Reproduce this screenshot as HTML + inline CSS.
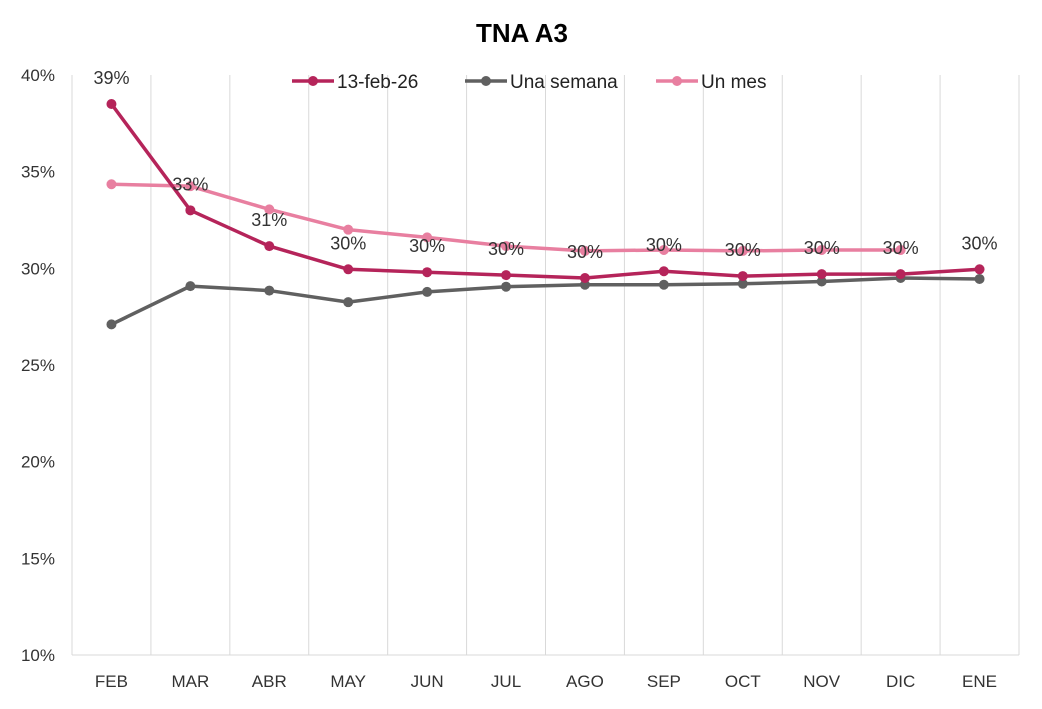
<!DOCTYPE html>
<html><head><meta charset="utf-8"><style>
body{margin:0;background:#fff;font-family:"Liberation Sans",sans-serif}
</style></head><body>
<svg id="chart" width="1042" height="704" xmlns="http://www.w3.org/2000/svg">
<text x="522" y="42" text-anchor="middle" font-size="26" font-weight="bold" fill="#000">TNA A3</text>
<g id="grid"></g><g id="axes"></g><g id="series"></g><g id="legend"></g>
</svg>
<script>
const categories=["FEB","MAR","ABR","MAY","JUN","JUL","AGO","SEP","OCT","NOV","DIC","ENE"];
const serieFeb=[38.5,33.0,31.15,29.95,29.8,29.65,29.5,29.85,29.6,29.7,29.7,29.95];
const serieSemana=[27.1,29.08,28.85,28.25,28.78,29.05,29.15,29.15,29.2,29.32,29.5,29.45];
const serieMes=[34.35,34.25,33.05,32.0,31.6,31.15,30.9,30.95,30.9,30.95,30.95,null];
const yTicks=[10,15,20,25,30,35,40];
const NS="http://www.w3.org/2000/svg";
const plotLeft=72,plotRight=1019,plotTop=75,plotBottom=655,yMin=10,yMax=40;
const step=(plotRight-plotLeft)/categories.length;
const xPos=i=>plotLeft+step*(i+0.5);
const yPos=v=>plotBottom-(v-yMin)/(yMax-yMin)*(plotBottom-plotTop);
function mk(tag,attrs,parent,txt){const e=document.createElementNS(NS,tag);for(const k in attrs)e.setAttribute(k,attrs[k]);if(txt!=null)e.textContent=txt;parent.appendChild(e);return e;}
const grid=document.getElementById('grid'),axes=document.getElementById('axes'),ser=document.getElementById('series'),leg=document.getElementById('legend');
for(let i=0;i<=categories.length;i++){const l=mk('line',{x1:plotLeft+step*i,x2:plotLeft+step*i,y1:plotTop,y2:plotBottom,stroke:'#d9d9d9','stroke-width':1},grid);

}
const ax=mk('line',{x1:plotLeft,x2:plotRight,y1:plotBottom,y2:plotBottom,stroke:'#d9d9d9','stroke-width':1},axes);


yTicks.forEach(t=>{const e=mk('text',{x:55,y:yPos(t)+6,'text-anchor':'end','font-size':17,fill:'#333'},axes,t+'%');

});
categories.forEach((c,i)=>{const e=mk('text',{x:xPos(i),y:687,'text-anchor':'middle','font-size':17,fill:'#333'},axes,c);

});
function draw(vals,color,name){const g=mk('g',{},ser);


let d='';vals.forEach((v,i)=>{if(v==null)return;d+=(d?'L':'M')+xPos(i)+','+yPos(v);});
mk('path',{d:d,fill:'none',stroke:color,'stroke-width':3.5,'stroke-linejoin':'round'},g);
vals.forEach((v,i)=>{if(v==null)return;const c=mk('circle',{cx:xPos(i),cy:yPos(v),r:5,fill:color},g);

});}
draw(serieSemana,'#606060','series-una-semana');
draw(serieMes,'#E87FA0','series-un-mes');
draw(serieFeb,'#B5245A','series-13-feb-26');
serieFeb.forEach((v,i)=>{const e=mk('text',{x:xPos(i),y:yPos(v)-20,'text-anchor':'middle','font-size':18,fill:'#333'},ser,Math.round(v)+'%');

});
const legItems=[["13-feb-26",'#B5245A',292],["Una semana",'#606060',465],["Un mes",'#E87FA0',656]];
legItems.forEach(([n,c,lx])=>{const g=mk('g',{},leg);


mk('line',{x1:lx,x2:lx+42,y1:81,y2:81,stroke:c,'stroke-width':3.5},g);
mk('circle',{cx:lx+21,cy:81,r:5,fill:c},g);
mk('text',{x:lx+45,y:88,'font-size':19,fill:'#222'},g,n);});
</script>
</body></html>
